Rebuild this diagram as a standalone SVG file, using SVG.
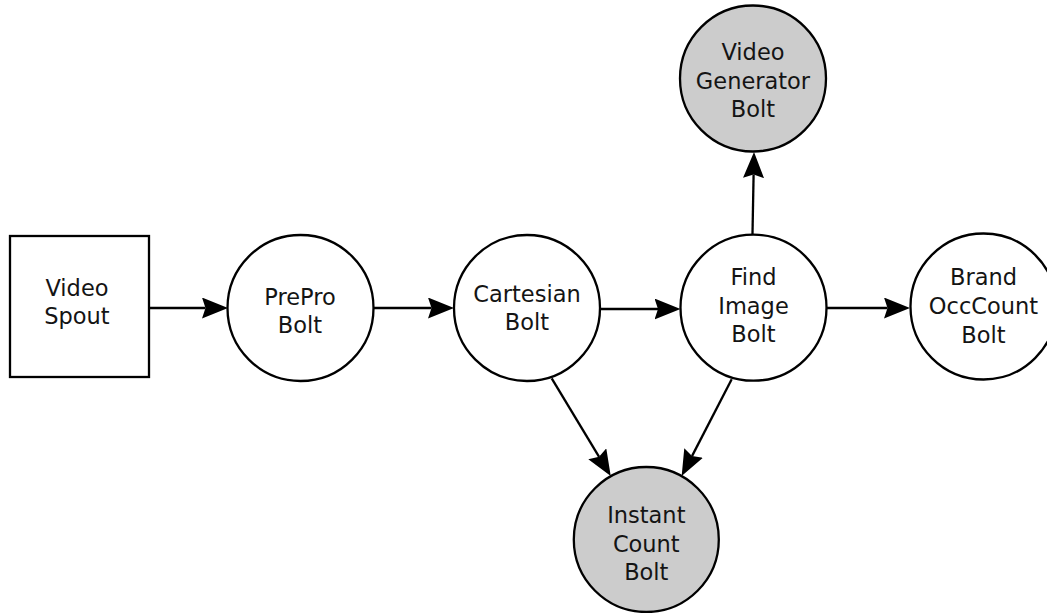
<svg xmlns="http://www.w3.org/2000/svg" width="1047" height="613" viewBox="0 0 1047 613">
  <style>
    .node { fill: #ffffff; stroke: #000000; stroke-width: 2.3; }
    .node.sink { fill: #cccccc; }
    .label { font-family: "DejaVu Sans", Verdana, sans-serif; font-size: 22.5px; fill: #141414; text-anchor: middle; }
    .edge { stroke: #000000; stroke-width: 2.3; fill: none; marker-end: url(#arrow); }
  </style>
  <defs>
    <marker id="arrow" viewBox="0 0 26 21" refX="3.5" refY="10.5" markerWidth="26" markerHeight="21" markerUnits="userSpaceOnUse" orient="auto">
      <path d="M0,0 L26,10.5 L0,21 L3.5,10.5 Z" fill="#000000"/>
    </marker>
  </defs>
  <rect width="1047" height="613" fill="#ffffff"/>

  <g id="connectors">
    <line class="edge" x1="149" y1="308" x2="205.5" y2="308"/>
    <line class="edge" x1="373" y1="308" x2="431.5" y2="308"/>
    <line class="edge" x1="600" y1="309" x2="658" y2="309"/>
    <line class="edge" x1="826" y1="308" x2="887.5" y2="308"/>
    <line class="edge" x1="752.5" y1="234" x2="753.6" y2="174.5"/>
    <line class="edge" x1="551.7" y1="378.3" x2="599.1" y2="456.8"/>
    <line class="edge" x1="731.7" y1="379.3" x2="692" y2="456.1"/>
  </g>

  <g id="video-spout">
    <rect class="node" x="10" y="236" width="139" height="141"/>
    <text class="label" x="77" y="296">Video</text>
    <text class="label" x="77" y="324">Spout</text>
  </g>

  <g id="prepro-bolt">
    <circle class="node" cx="300.5" cy="308" r="73"/>
    <text class="label" x="300" y="305">PrePro</text>
    <text class="label" x="300" y="333">Bolt</text>
  </g>

  <g id="cartesian-bolt">
    <circle class="node" cx="527" cy="308" r="73"/>
    <text class="label" x="527" y="302">Cartesian</text>
    <text class="label" x="527" y="330">Bolt</text>
  </g>

  <g id="find-image-bolt">
    <circle class="node" cx="753.5" cy="307.7" r="73"/>
    <text class="label" x="753.5" y="285">Find</text>
    <text class="label" x="753.5" y="314">Image</text>
    <text class="label" x="753.5" y="342">Bolt</text>
  </g>

  <g id="brand-occcount-bolt">
    <circle class="node" cx="983.5" cy="306.5" r="73"/>
    <text class="label" x="983.5" y="285">Brand</text>
    <text class="label" x="983.5" y="314">OccCount</text>
    <text class="label" x="983.5" y="342.5">Bolt</text>
  </g>

  <g id="video-generator-bolt">
    <circle class="node sink" cx="753" cy="78.5" r="73"/>
    <text class="label" x="753" y="60">Video</text>
    <text class="label" x="753" y="88.5">Generator</text>
    <text class="label" x="753" y="116.5">Bolt</text>
  </g>

  <g id="instant-count-bolt">
    <circle class="node sink" cx="646.3" cy="539.5" r="72.5"/>
    <text class="label" x="646.3" y="522.7">Instant</text>
    <text class="label" x="646.3" y="551.7">Count</text>
    <text class="label" x="646.3" y="580">Bolt</text>
  </g>
</svg>
